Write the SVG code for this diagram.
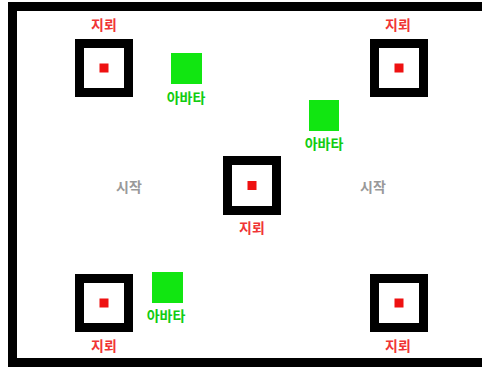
<svg xmlns="http://www.w3.org/2000/svg" width="482" height="369" viewBox="0 0 482 369">
<style>
.trap{fill:#fff;stroke:#000;stroke-width:9}
.dot{fill:#ee1111}
.ava{fill:#11e611}
text{font-family:"Noto Sans CJK KR","Noto Sans",sans-serif;font-size:14px;font-weight:bold;text-anchor:middle}
.tl{fill:#f03535}
.al{fill:#11cc11}
.sl{fill:#999999}
</style>
<rect width="482" height="369" fill="#fff"/>
<rect id="frame" x="12.5" y="6.5" width="500" height="356" fill="none" stroke="#000" stroke-width="9"/>
<g id="mine1"><rect class="trap" x="79.5" y="43.5" width="49" height="49"/><rect class="dot" x="99.5" y="63.5" width="9" height="9"/><text class="tl" x="104" y="30">지뢰</text></g>
<g id="mine2"><rect class="trap" x="374.5" y="43.5" width="49" height="49"/><rect class="dot" x="394.5" y="63.5" width="9" height="9"/><text class="tl" x="398" y="30">지뢰</text></g>
<g id="mine3"><rect class="trap" x="227.5" y="160.5" width="49" height="50"/><rect class="dot" x="247.5" y="181" width="9" height="9"/><text class="tl" x="252" y="233">지뢰</text></g>
<g id="mine4"><rect class="trap" x="79.5" y="278.5" width="49" height="49"/><rect class="dot" x="99.5" y="298.5" width="9" height="9"/><text class="tl" x="104" y="351">지뢰</text></g>
<g id="mine5"><rect class="trap" x="374.5" y="278.5" width="49" height="49"/><rect class="dot" x="394.5" y="298.5" width="9" height="9"/><text class="tl" x="398" y="351">지뢰</text></g>
<g id="avatar1"><rect class="ava" x="171" y="53" width="31" height="31"/><text class="al" x="186" y="103">아바타</text></g>
<g id="avatar2"><rect class="ava" x="309" y="100" width="30" height="31"/><text class="al" x="324" y="149">아바타</text></g>
<g id="avatar3"><rect class="ava" x="152" y="272" width="31" height="31"/><text class="al" x="166" y="321">아바타</text></g>
<g id="start1"><text class="sl" x="129" y="192">시작</text></g>
<g id="start2"><text class="sl" x="373" y="192">시작</text></g>
<g id="connectors"></g>
</svg>
